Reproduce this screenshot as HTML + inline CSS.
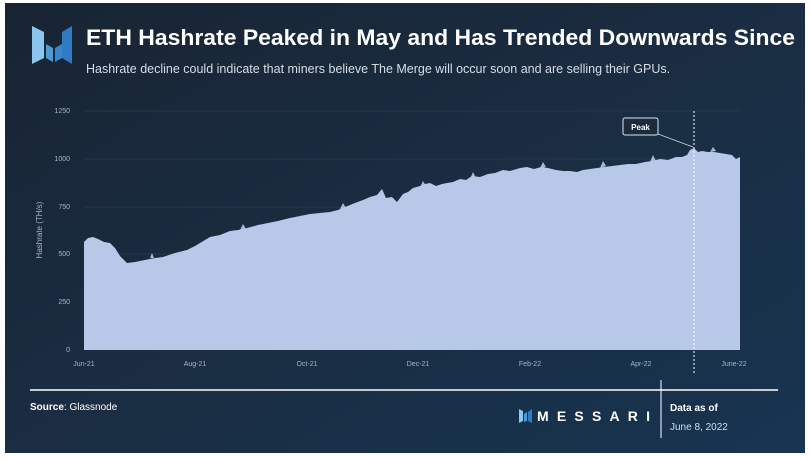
<!DOCTYPE html>
<html><head><meta charset="utf-8"><style>
html,body{margin:0;padding:0;background:#fff;}
body{width:811px;height:460px;overflow:hidden;position:relative;font-family:"Liberation Sans",sans-serif;}
</style></head><body>
<svg width="811" height="460" viewBox="0 0 811 460" xmlns="http://www.w3.org/2000/svg" style="position:absolute;left:0;top:0">
<defs>
<linearGradient id="bg" x1="0" y1="0" x2="1" y2="1">
<stop offset="0" stop-color="#182433"/><stop offset="0.5" stop-color="#1a2d42"/><stop offset="1" stop-color="#173451"/>
</linearGradient>
</defs>
<rect x="5" y="3" width="800" height="450" fill="url(#bg)"/>
<!-- logo -->
<polygon points="32,26 44,32 44,58 32,64" fill="#8cc6ee"/>
<polygon points="46,44 53,48 53,62 46,58" fill="#4a9ad8"/>
<polygon points="55,48 62,44 62,58 55,62" fill="#3a86cc"/>
<polygon points="62,32 72,26 72,64 62,58" fill="#2f7cc4"/>
<text x="86" y="45" font-size="22" font-weight="bold" fill="#fff" textLength="709" lengthAdjust="spacingAndGlyphs">ETH Hashrate Peaked in May and Has Trended Downwards Since</text>
<text x="86" y="73" font-size="12.5" fill="#d6dde6">Hashrate decline could indicate that miners believe The Merge will occur soon and are selling their GPUs.</text>
<!-- grid -->
<g stroke="#2c3d52" stroke-width="0.7">
<line x1="84" y1="111" x2="740" y2="111"/><line x1="84" y1="159" x2="740" y2="159"/>
<line x1="84" y1="207" x2="740" y2="207"/><line x1="84" y1="254" x2="740" y2="254"/>
<line x1="84" y1="302" x2="740" y2="302"/>
</g>
<g font-size="7" fill="#aab4c2" text-anchor="end">
<text x="70" y="113">1250</text><text x="70" y="161">1000</text><text x="70" y="209">750</text>
<text x="70" y="256">500</text><text x="70" y="304">250</text><text x="70" y="352">0</text>
</g>
<text transform="translate(42,230) rotate(-90)" font-size="8" fill="#aab4c2" text-anchor="middle">Hashrate (TH/s)</text>
<polygon fill="#b8c8e8" points="84,350 84,242 88,238 93,237 98,239 104,242 110,243 115,248 120,256 127,263 135,262 145,260 155,258 163,257 175,253 187,250 195,246 200,243 210,237 220,235 230,231 238,230 247,228 258,225 268,223 278,221 290,218 300,216 310,214 320,213 330,212 338,210 345,207 355,203 363,200 370,197 377,195 382,189 386,198 392,197 397,202 403,194 408,192 413,188 420,186 425,184 430,183 436,186 442,184 447,183 453,182 460,179 466,180 472,176 480,177 488,174 495,173 503,170 510,171 520,168 527,167 534,169 541,167 548,168 556,170 563,171 570,171 577,172 583,170 590,169 597,168 604,167 612,166 620,165 628,164 636,164 645,162 652,161 660,159 668,160 676,157 682,157 687,155 690,150 694,148 698,152 702,151 708,152 714,152 720,153 726,154 732,155 736,159 740,157 740,350"/>
<g fill="#b8c8e8" opacity="0.9">
<polygon points="150,258 152,253 154,258"/><polygon points="240,230 243,224 246,229"/><polygon points="340,209 343,203 346,208"/>
<polygon points="420,187 423,181 426,186"/><polygon points="470,179 473,172 476,178"/><polygon points="540,168 543,162 546,167"/>
<polygon points="600,168 603,161 606,166"/><polygon points="650,162 653,155 656,161"/><polygon points="710,152 713,147 716,151"/>
</g>
<line x1="694" y1="111" x2="694" y2="373" stroke="#fff" stroke-width="1" stroke-dasharray="2,2"/>
<line x1="658" y1="134" x2="693" y2="147" stroke="#cfd8e3" stroke-width="0.8"/>
<rect x="623" y="118" width="35" height="17" rx="2" fill="#1b2b3e" stroke="#dfe6ee" stroke-width="1"/>
<text x="640.5" y="130" font-size="8" fill="#fff" text-anchor="middle" font-weight="bold">Peak</text>
<g font-size="7" fill="#aab4c2" text-anchor="middle">
<text x="84" y="366">Jun-21</text><text x="195" y="366">Aug-21</text><text x="307" y="366">Oct-21</text>
<text x="418" y="366">Dec-21</text><text x="530" y="366">Feb-22</text><text x="641" y="366">Apr-22</text><text x="734" y="366">June-22</text>
</g>
<line x1="30" y1="390" x2="778" y2="390" stroke="#fff" stroke-width="1.5"/>
<line x1="661" y1="380" x2="661" y2="438" stroke="#fff" stroke-width="1"/>
<text x="30" y="410" font-size="10" fill="#fff"><tspan font-weight="bold">Source</tspan>: Glassnode</text>
<polygon points="519,409 523,411 523,421 519,423" fill="#8cc6ee"/>
<polygon points="524,414 527,412 527,421 524,422" fill="#4a9ad8"/>
<polygon points="528,412 532,409 532,423 528,421" fill="#2f7cc4"/>
<text x="537" y="421" font-size="14" font-weight="bold" fill="#fff" textLength="113" lengthAdjust="spacing">MESSARI</text>
<text x="670" y="411" font-size="10" font-weight="bold" fill="#fff">Data as of</text>
<text x="670" y="430" font-size="10" fill="#d6dde6">June 8, 2022</text>
</svg>
</body></html>
